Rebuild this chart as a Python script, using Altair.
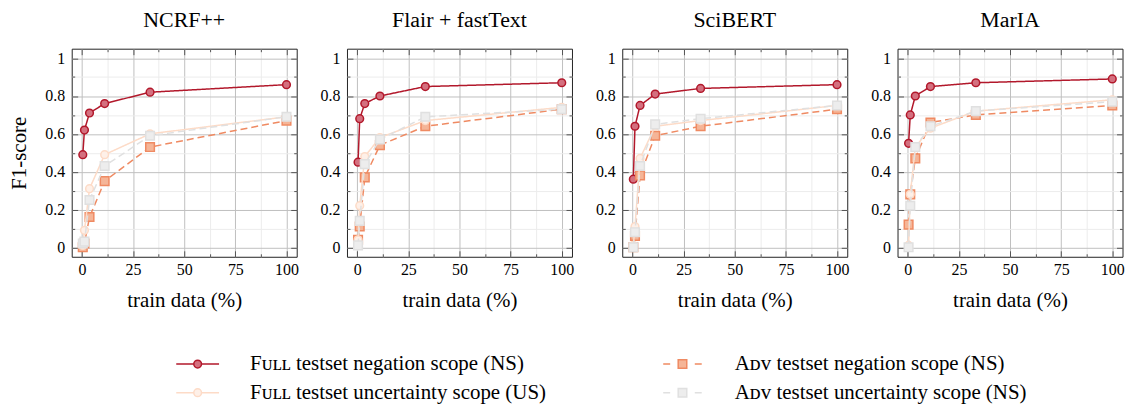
import altair as alt
import pandas as pd

SERIF = "Liberation Serif"

models = ["NCRF++", "Flair + fastText", "SciBERT", "MarIA"]
train_pct = [0.41, 1.23, 3.7, 11.1, 33.3, 100]

# plotting order (later drawn on top)
series_names = [
    "Fᴜʟʟ testset negation scope (NS)",
    "Aᴅᴠ testset negation scope (NS)",
    "Fᴜʟʟ testset uncertainty scope (US)",
    "Aᴅᴠ testset uncertainty scope (NS)",
]
line_colors = ["#b2182b", "#ef8a62", "#fddbc7", "#e0e0e0"]
fill_colors = ["#d4707f", "#f5b597", "#fef0e8", "#ededed"]
marker_shapes = ["circle", "square", "circle", "square"]
dashed = [False, True, False, True]

# legend order (legend fills column by column)
legend_order = [0, 2, 1, 3]

# values per model, in series order (Full NS, Adv NS, Full US, Adv US)
ncrf_full_ns = [0.49, 0.62, 0.71, 0.76, 0.82, 0.86]
ncrf_adv_ns = [0.00, 0.02, 0.16, 0.35, 0.53, 0.67]
ncrf_full_us = [0.01, 0.09, 0.31, 0.49, 0.60, 0.69]
ncrf_adv_us = [0.02, 0.03, 0.25, 0.43, 0.59, 0.69]

flair_full_ns = [0.45, 0.68, 0.76, 0.80, 0.85, 0.87]
flair_adv_ns = [0.04, 0.11, 0.37, 0.54, 0.64, 0.73]
flair_full_us = [0.04, 0.22, 0.48, 0.58, 0.67, 0.74]
flair_adv_us = [0.01, 0.14, 0.44, 0.57, 0.69, 0.73]

scibert_full_ns = [0.36, 0.64, 0.75, 0.81, 0.84, 0.86]
scibert_adv_ns = [0.00, 0.06, 0.38, 0.59, 0.64, 0.73]
scibert_full_us = [0.01, 0.11, 0.47, 0.64, 0.67, 0.75]
scibert_adv_us = [0.00, 0.08, 0.43, 0.65, 0.68, 0.75]

maria_full_ns = [0.55, 0.70, 0.80, 0.85, 0.87, 0.89]
maria_adv_ns = [0.12, 0.28, 0.47, 0.66, 0.70, 0.75]
maria_full_us = [0.01, 0.28, 0.53, 0.63, 0.72, 0.78]
maria_adv_us = [0.00, 0.22, 0.53, 0.64, 0.72, 0.77]

model_values = {
    "NCRF++": [ncrf_full_ns, ncrf_adv_ns, ncrf_full_us, ncrf_adv_us],
    "Flair + fastText": [flair_full_ns, flair_adv_ns, flair_full_us, flair_adv_us],
    "SciBERT": [scibert_full_ns, scibert_adv_ns, scibert_full_us, scibert_adv_us],
    "MarIA": [maria_full_ns, maria_adv_ns, maria_full_us, maria_adv_us],
}

x_major = [0, 25, 50, 75, 100]
x_minor = [12.5, 37.5, 62.5, 87.5]
y_major = [0, 0.2, 0.4, 0.6, 0.8, 1.0]
y_minor = [0.1, 0.3, 0.5, 0.7, 0.9]

# legend symbols: line + marker (paths in -2..2 units)
CIRCLE_SYM = "M-2,0L-0.36,0M0.36,0L2,0M-0.36,0A0.36,0.36 0 1,0 0.36,0A0.36,0.36 0 1,0 -0.36,0Z"
SQUARE_SYM = "M-1.8,0L-1.15,0M1.15,0L1.8,0M-0.4,-0.4L0.4,-0.4L0.4,0.4L-0.4,0.4Z"
legend_paths = [CIRCLE_SYM, SQUARE_SYM, CIRCLE_SYM, SQUARE_SYM]

xs = alt.Scale(domain=[-5, 105], nice=False, zero=False)
ys = alt.Scale(domain=[-0.05, 1.05], nice=False, zero=False)

GRID_MAJOR = "#bfbfbf"
GRID_MINOR = "#ececec"
TICK = "#555555"


def no_axis_x():
    return alt.X("x:Q", scale=xs, axis=None)


def no_axis_y():
    return alt.Y("y:Q", scale=ys, axis=None)


def panel(model, first):
    rows = []
    for s, vals in zip(series_names, model_values[model]):
        for xv, yv in zip(train_pct, vals):
            rows.append({"series": s, "x": xv, "y": yv})
    df = pd.DataFrame(rows)
    base = alt.Chart(df)

    def ax_layer(xaxis, yaxis):
        return base.mark_point(opacity=0).encode(
            x=alt.X("x:Q", scale=xs, axis=xaxis),
            y=alt.Y("y:Q", scale=ys, axis=yaxis),
        )

    common = dict(labels=False, domain=False, title=None)
    minor_grid = ax_layer(
        alt.Axis(orient="bottom", values=x_minor, grid=True, gridColor=GRID_MINOR,
                 gridWidth=1, ticks=False, **common),
        alt.Axis(orient="left", values=y_minor, grid=True, gridColor=GRID_MINOR,
                 gridWidth=1, ticks=False, **common),
    )
    major = ax_layer(
        alt.Axis(orient="bottom", values=x_major, grid=True, gridColor=GRID_MAJOR,
                 gridWidth=1, ticks=False, domain=False, labelFont=SERIF,
                 labelFontSize=16, labelColor="black", labelPadding=5,
                 title="train data (%)", titleFont=SERIF, titleFontSize=21,
                 titleFontWeight="normal", titleColor="black", titlePadding=12),
        alt.Axis(orient="left", values=y_major, grid=True, gridColor=GRID_MAJOR,
                 gridWidth=1, ticks=False, domain=False, format=".1~f",
                 labelFont=SERIF, labelFontSize=16, labelColor="black",
                 labelPadding=7,
                 title="F1-score" if first else None, titleFont=SERIF,
                 titleFontSize=21, titleFontWeight="normal", titleColor="black",
                 titlePadding=15),
    )

    def tick_axis(orient, values, size):
        return alt.Axis(orient=orient, values=values, grid=False, ticks=True,
                        tickSize=size, tickColor=TICK, tickWidth=1,
                        offset=-size, **common)

    ticks_bl = ax_layer(tick_axis("bottom", x_major, 6), tick_axis("left", y_major, 6))
    ticks_tr = ax_layer(tick_axis("top", x_major, 6), tick_axis("right", y_major, 6))
    mticks_bl = ax_layer(tick_axis("bottom", x_minor, 3), tick_axis("left", y_minor, 3))
    mticks_tr = ax_layer(tick_axis("top", x_minor, 3), tick_axis("right", y_minor, 3))

    layers = [minor_grid, major, ticks_bl, ticks_tr, mticks_bl, mticks_tr]

    for s, lc, fc, shp, d in zip(series_names, line_colors, fill_colors,
                                 marker_shapes, dashed):
        sub = base.transform_filter(alt.datum.series == s)
        line = sub.mark_line(color=lc, strokeWidth=1.5,
                             strokeDash=[7, 4] if d else [1, 0]).encode(
            x=no_axis_x(), y=no_axis_y())
        pts = sub.mark_point(shape=shp, filled=True, fill=fc, stroke=lc,
                             strokeWidth=1.5, size=60 if shp == "circle" else 75,
                             opacity=1, fillOpacity=1, strokeOpacity=1).encode(
            x=no_axis_x(), y=no_axis_y())
        layers += [line, pts]

    if first:
        dom = [series_names[i] for i in legend_order]
        leg = alt.Legend(
            orient="none", legendX=115, legendY=305, columns=2, title=None,
            labelFont=SERIF, labelFontSize=21, labelColor="black", labelLimit=700,
            symbolSize=462, symbolStrokeWidth=1.5, labelOffset=41,
            columnPadding=114, rowPadding=7, symbolOpacity=1,
        )
        legend_layer = base.transform_filter("false").mark_point(
            filled=True, opacity=1, size=462, strokeWidth=1.5).encode(
            shape=alt.Shape("series:N", scale=alt.Scale(
                domain=dom, range=[legend_paths[i] for i in legend_order]), legend=leg),
            stroke=alt.Stroke("series:N", scale=alt.Scale(
                domain=dom, range=[line_colors[i] for i in legend_order]), legend=leg),
            fill=alt.Fill("series:N", scale=alt.Scale(
                domain=dom, range=[fill_colors[i] for i in legend_order]), legend=leg),
        )
        layers.append(legend_layer)

    return alt.layer(*layers).resolve_axis(x="independent", y="independent").properties(
        width=226, height=209,
        title=alt.Title(model, font=SERIF, fontSize=22, fontWeight="normal",
                        color="black", offset=16),
    )


chart = alt.hconcat(
    *[panel(m, i == 0) for i, m in enumerate(models)], spacing=19.5
).resolve_scale(shape="shared", stroke="shared", fill="shared").properties(
    padding={"left": 0, "top": 0, "right": 0, "bottom": 0}
).configure(font=SERIF).configure_view(stroke="#222222", strokeWidth=1)

chart.save("out.html", embed_options={"renderer": "svg", "actions": False})
